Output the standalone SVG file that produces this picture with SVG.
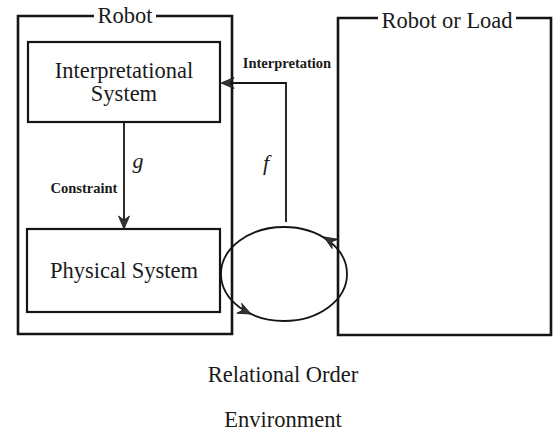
<svg xmlns="http://www.w3.org/2000/svg" xmlns:xlink="http://www.w3.org/1999/xlink" width="556" height="434" viewBox="0 0 556 434">
<style>
.frame{fill:none;stroke:#151515;stroke-width:2.6}
.box{fill:none;stroke:#151515;stroke-width:2.2}
.conn{fill:none;stroke:#151515;stroke-width:1.8}
text{font-family:'Liberation Serif','Times New Roman',Times,'DejaVu Serif',serif;fill:#1a1a1a;text-anchor:middle}
.big{font-size:22.5px}
.small{font-size:14.5px;font-weight:bold}
.it{font-size:22px;font-style:italic}
.ah{fill:#333;stroke:#151515;stroke-width:0.8}
</style>
<defs>
<path id="ah" class="ah" d="M0,0 L-13,-5.5 L-9,0 L-13,5.5 z"/>
</defs>
<rect width="556" height="434" fill="#fff"/>
<g id="robot">
<path class="frame" d="M94,16 H18 V334 H232 V16 H156"/>
<text class="big" x="125" y="23">Robot</text>
</g>
<g id="robot-or-load">
<path class="frame" d="M378,18 H338 V335 H551 V18 H516"/>
<text class="big" x="447" y="28">Robot or Load</text>
</g>
<g id="interpretational-system">
<rect class="box" x="28" y="42" width="192" height="80"/>
<text class="big" x="124" y="78">Interpretational</text>
<text class="big" x="124" y="101">System</text>
</g>
<g id="physical-system">
<rect class="box" x="27" y="229" width="193" height="83"/>
<text class="big" x="124" y="278">Physical System</text>
</g>
<g id="relational-order">
<ellipse class="conn" cx="284" cy="274" rx="63" ry="47"/>
<use xlink:href="#ah" transform="translate(324,237) rotate(212)"/>
<use xlink:href="#ah" transform="translate(251,314) rotate(26)"/>
</g>
<g id="connectors">
<path class="conn" d="M124,122 V227"/>
<use xlink:href="#ah" transform="translate(124,229) rotate(90)"/>
<path class="conn" d="M286,222 V83 H223"/>
<use xlink:href="#ah" transform="translate(221,83) rotate(180)"/>
<text class="small" x="84" y="193">Constraint</text>
<text class="it" x="138" y="168">g</text>
<text class="small" x="287" y="68">Interpretation</text>
<text class="it" x="266" y="170">f</text>
</g>
<g id="labels">
<text class="big" x="283" y="382">Relational Order</text>
<text class="big" x="283" y="427">Environment</text>
</g>
</svg>
